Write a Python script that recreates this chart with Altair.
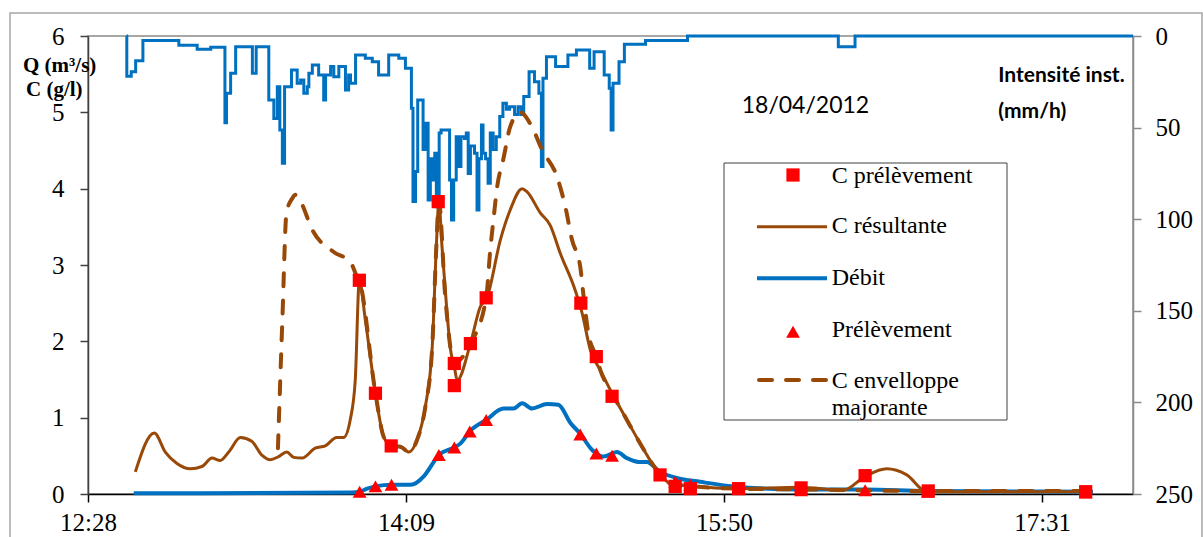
import altair as alt
import pandas as pd

# ---------------- data (times in minutes since midnight) ----------------
rain_t = [761.0, 761.1, 762.5, 763.9, 766.2, 777.6, 783.4, 787.7, 792.2, 792.7, 794.0, 795.6,
          800.9, 802.1, 806.1, 807.7, 808.8, 809.6, 810.4, 811.1, 813.3, 815.1, 816.2, 817.2,
          818.3, 818.8, 819.9, 821.9, 823.5, 824.1, 825.7, 826.7, 828.3, 830.4, 831.4, 832.0,
          833.6, 836.7, 838.9, 840.9, 844.1, 847.3, 849.4, 851.3, 851.8, 852.6, 853.3, 855.0,
          855.7, 856.6, 857.3, 858.2, 858.7, 859.2, 860.1, 860.7, 863.4, 864.0, 864.7, 865.5,
          866.3, 867.0, 868.1, 868.7, 869.3, 870.0, 871.3, 872.1, 872.7, 873.5, 874.0, 874.8,
          875.6, 876.3, 877.2, 878.2, 879.3, 880.3, 881.4, 882.4, 884.0, 885.1, 886.1, 886.9,
          888.6, 890.3, 891.7, 892.5, 893.0, 894.1, 897.0, 900.9, 903.6, 907.8, 909.2, 912.4,
          914.0, 914.6, 915.2, 917.1, 918.8, 925.5, 938.8, 986.6, 991.9, 1080.0]
rain_i = [0, 22, 19.5, 13.5, 2.5, 5, 7.3, 6.2, 47.3, 31.3, 20.4, 5.8,
          20.4, 5.8, 35, 45, 27.7, 51.3, 69.5, 27.7, 18.6, 25.8, 24, 31.3,
          27.7, 20.4, 15.8, 21.3, 35, 21.3, 16.7, 22.2, 16.7, 29.5, 21.3, 25.8,
          10.4, 12.2, 14, 21.3, 10.4, 12.2, 17.6, 39.5, 90.4, 74, 35, 62,
          47.6, 89.5, 67, 78.6, 64, 93.2, 53, 51.3, 78.6, 100.4, 78.6, 55,
          71.3, 55, 56, 53, 75, 60, 64, 95, 67, 48.6, 64, 67,
          80.4, 53, 62, 55, 44, 36.7, 40, 38.6, 42.8, 38.6, 42.8, 33,
          19.5, 25, 31.3, 71.3, 23, 11.3, 16.7, 10.4, 7.6, 17.6, 8.6, 21.3,
          28.5, 51.3, 25.8, 14, 4.5, 2.5, 0, 5.8, 0, 0]

debit_t = [763.3, 784.5, 832.3, 834.9, 837.3, 839.9, 845.0, 851.0, 855.2, 858.4, 860.0, 864.9,
           866.8, 869.8, 875.0, 880.5, 883.7, 886.4, 889.5, 894.3, 897.9, 901.7, 904.8, 908.5,
           912.2, 916.4, 919.6, 923.3, 925.9, 930.1, 935.4, 942.8, 953.4, 974.5, 995.1, 1014.3, 1067.3]
debit_q = [0.01, 0.01, 0.02, 0.03, 0.07, 0.10, 0.12, 0.12, 0.23, 0.42, 0.51, 0.61,
           0.66, 0.82, 0.97, 1.12, 1.12, 1.19, 1.12, 1.18, 1.17, 0.93, 0.79, 0.58,
           0.49, 0.55, 0.47, 0.42, 0.42, 0.29, 0.21, 0.16, 0.10, 0.06, 0.06, 0.04, 0.03]

cres_t = [763.8, 769.8, 773.3, 777.0, 781.2, 784.9, 788.1, 790.7, 793.4, 797.1, 800.7, 803.9,
          806.6, 809.2, 811.8, 814.0, 816.6, 820.8, 824.0, 827.6, 829.8, 831.9, 833.5, 834.8,
          836.7, 839.9, 842.5, 844.9, 847.8, 850.5, 853.1, 855.7, 857.9, 859.2, 860.0, 861.0,
          862.6, 863.7, 864.9, 865.8, 870.0, 873.1, 875.3, 879.5, 882.6, 886.4, 887.9, 892.2,
          895.3, 898.5, 903.2, 905.4, 908.0, 911.2, 914.9, 919.6, 924.4, 929.1, 933.3, 940.7,
          955.0, 974.5, 988.2, 995.1, 1001.9, 1008.3, 1014.6, 1065.3]
cres_c = [0.29, 0.80, 0.55, 0.40, 0.33, 0.36, 0.47, 0.44, 0.55, 0.74, 0.69, 0.51,
          0.45, 0.49, 0.55, 0.48, 0.47, 0.60, 0.63, 0.74, 0.74, 0.97, 1.49, 2.80,
          2.28, 1.32, 0.75, 0.63, 0.62, 0.55, 0.71, 1.14, 1.93, 3.24, 3.83, 3.24,
          2.37, 1.89, 1.67, 1.49, 1.97, 2.45, 2.58, 3.33, 3.72, 4.00, 3.96, 3.68,
          3.52, 3.15, 2.67, 2.37, 1.89, 1.62, 1.32, 0.97, 0.62, 0.31, 0.14, 0.10,
          0.07, 0.09, 0.05, 0.23, 0.33, 0.25, 0.03, 0.03]

cenv_t = [809.0, 810.4, 811.7, 813.5, 814.6, 816.2, 819.9, 826.7, 832.0, 833.8, 834.8,
          839.9, 842.5, 844.9, 847.8, 850.5, 853.1, 855.7, 857.9, 859.2, 860.0, 862.0, 864.9,
          870.0, 875.0, 876.3, 877.4, 878.4, 880.5, 882.6, 885.8, 889.5, 892.7, 897.4, 900.1,
          902.2, 904.8, 905.9, 907.4, 909.9, 911.2, 914.9, 919.6, 924.4, 929.1, 933.3, 940.7,
          955.0, 975.0, 1015.0, 1065.3]
cenv_c = [0.60, 2.28, 3.68, 3.87, 3.92, 3.83, 3.46, 3.17, 3.04, 2.87, 2.80,
          1.32, 0.75, 0.63, 0.62, 0.55, 0.71, 1.14, 1.93, 3.24, 3.83, 2.60, 1.72,
          1.97, 2.57, 3.20, 3.63, 4.00, 4.40, 4.81, 5.00, 4.81, 4.51, 4.16, 3.76,
          3.33, 2.98, 2.58, 2.10, 1.80, 1.62, 1.32, 0.97, 0.62, 0.31, 0.14, 0.10,
          0.07, 0.06, 0.04, 0.04]

cpre_t = [834.8, 839.9, 844.9, 859.8, 864.9, 864.9, 870.0, 875.0, 905.0, 909.9, 914.9,
          930.1, 934.9, 939.7, 955.0, 974.8, 995.1, 1015.1, 1065.0]
cpre_c = [2.80, 1.32, 0.63, 3.83, 1.71, 1.42, 1.97, 2.57, 2.50, 1.80, 1.28,
          0.25, 0.10, 0.07, 0.07, 0.08, 0.24, 0.04, 0.03]

pre_t = [834.9, 839.9, 845.0, 860.0, 864.9, 869.8, 875.0, 904.8, 909.9, 914.9,
         934.9, 939.7, 955.0, 974.8, 995.1, 1015.0, 1065.0]
pre_q = [0.03, 0.10, 0.12, 0.51, 0.61, 0.82, 0.97, 0.78, 0.53, 0.50,
         0.16, 0.12, 0.07, 0.05, 0.05, 0.03, 0.02]

x_domain = [748.8, 1080.0]
x_ticks = [748.8, 849.6, 950.4, 1051.2]
left_ticks = [0, 1, 2, 3, 4, 5, 6]
right_ticks = [0, 50, 100, 150, 200, 250]

legend_labels = ["C prélèvement", "C résultante", "Débit", "Prélèvement"]
legend_multi = ["C envelloppe", "majorante"]

# ---------------- styling ----------------
BLUE = "#0070C0"
BROWN = "#984807"
RED = "#FF0000"
W, H = 1045, 458
SERIF = "'Liberation Serif', 'Times New Roman', Times, 'DejaVu Serif', serif"

def df(t, v):
    return pd.DataFrame({"t": t, "v": v})

label_expr = ("floor(datum.value/60) + ':' + (floor(datum.value%60) < 10 ? '0' : '') "
              "+ floor(datum.value%60)")

xenc = alt.X("t:Q", title=None,
             scale=alt.Scale(domain=x_domain, nice=False, zero=False),
             axis=alt.Axis(values=x_ticks, labelExpr=label_expr, grid=False,
                           domainColor="#000", domainWidth=1.5, tickColor="#000",
                           tickWidth=1.5, tickSize=8, labelFont=SERIF, labelFontSize=25,
                           labelColor="#000", labelPadding=8, labelFlush=False,
                           labelOverlap=False))

yleft = alt.Y("v:Q", title=None,
              scale=alt.Scale(domain=[0, 6], nice=False),
              axis=alt.Axis(orient="left", values=left_ticks, grid=False,
                            domainColor="#404040", domainWidth=1.5, tickColor="#404040",
                            tickWidth=1.5, tickSize=8, labelFont=SERIF, labelFontSize=25,
                            labelColor="#000", labelPadding=16))

yright = alt.Y("v:Q", title=None,
               scale=alt.Scale(domain=[0, 250], nice=False, reverse=True),
               axis=alt.Axis(orient="right", values=right_ticks, grid=False,
                             domainColor="#8a8a8a", domainWidth=1.5, tickColor="#8a8a8a",
                             tickWidth=1.5, tickSize=8, labelFont=SERIF, labelFontSize=25,
                             labelColor="#000", labelPadding=14))

one = pd.DataFrame({"a": [0]})

frame = alt.Chart(one).mark_rect(fillOpacity=0, stroke="#a6a6a6", strokeWidth=1.5).encode(
    x=alt.value(-78), x2=alt.value(1114), y=alt.value(-23), y2=alt.value(530))

rain_line = alt.Chart(df(rain_t, rain_i)).mark_line(
    interpolate="step-after", color=BLUE, strokeWidth=3).encode(x=xenc, y=yright)

debit_line = alt.Chart(df(debit_t, debit_q)).mark_line(
    interpolate="monotone", color=BLUE, strokeWidth=4).encode(x=xenc, y=yleft)
cres_line = alt.Chart(df(cres_t, cres_c)).mark_line(
    interpolate="monotone", color=BROWN, strokeWidth=3).encode(x=xenc, y=yleft)
cenv_line = alt.Chart(df(cenv_t, cenv_c)).mark_line(
    interpolate="monotone", color=BROWN, strokeWidth=4, strokeDash=[13, 14],
    strokeCap="round").encode(x=xenc, y=yleft)
tri_pts = alt.Chart(df(pre_t, pre_q)).mark_point(
    shape="triangle-up", filled=True, color=RED, size=190, opacity=1).encode(x=xenc, y=yleft)
sq_pts = alt.Chart(df(cpre_t, cpre_c)).mark_point(
    shape="square", filled=True, color=RED, size=175, opacity=1).encode(x=xenc, y=yleft)

left = alt.layer(debit_line, cres_line, cenv_line, tri_pts, sq_pts)

# legend (drawn by hand, as in the original boxed legend)
leg_box = alt.Chart(one).mark_rect(fill="white", stroke="#404040", strokeWidth=1).encode(
    x=alt.value(636), x2=alt.value(919), y=alt.value(127), y2=alt.value(384))
leg_sq = alt.Chart(one).mark_point(shape="square", filled=True, color=RED, size=175,
                                   opacity=1).encode(x=alt.value(705), y=alt.value(139))
leg_cres = alt.Chart(one).mark_rule(color=BROWN, strokeWidth=3).encode(
    x=alt.value(669), x2=alt.value(739), y=alt.value(190.7))
leg_deb = alt.Chart(one).mark_rule(color=BLUE, strokeWidth=4).encode(
    x=alt.value(669), x2=alt.value(739), y=alt.value(242.3))
leg_tri = alt.Chart(one).mark_point(shape="triangle-up", filled=True, color=RED, size=190,
                                    opacity=1).encode(x=alt.value(705), y=alt.value(295.7))
leg_env = alt.Chart(one).mark_rule(color=BROWN, strokeWidth=4, strokeDash=[13, 14],
                                   strokeCap="round").encode(
    x=alt.value(671), x2=alt.value(739), y=alt.value(344))

def txt(label, x, y, font=SERIF, size=24, weight="normal"):
    return alt.Chart(one).mark_text(align="left", baseline="alphabetic", font=font,
                                    fontSize=size, fontWeight=weight, color="#000").encode(
        x=alt.value(x), y=alt.value(y), text=alt.value(label))

leg_texts = [txt(legend_labels[0], 743.7, 147), txt(legend_labels[1], 743.7, 197),
             txt(legend_labels[2], 743.7, 249), txt(legend_labels[3], 743.7, 300.7),
             txt(legend_multi[0], 743.7, 352.3), txt(legend_multi[1], 743.7, 379)]

annots = [txt("18/04/2012", 653.7, 77, font="Lato", size=23),
          txt("Intensité inst.", 910.3, 45.7, font="Lato", size=21, weight="bold"),
          txt("(mm/h)", 910.3, 82.3, font="Lato", size=21, weight="bold"),
          txt("Q (m³/s)", -65, 35.5, size=21, weight="bold"),
          txt("C (g/l)", -62, 59.5, size=21, weight="bold")]

chart = alt.layer(
    frame, rain_line, left, leg_box, leg_sq, leg_cres, leg_deb, leg_tri, leg_env,
    *leg_texts, *annots
).resolve_scale(y="independent").properties(
    width=W, height=H,
    autosize=alt.AutoSizeParams(type="none"),
    padding={"left": 88, "top": 36, "right": 70, "bottom": 43},
).configure_view(stroke="#8a8a8a", strokeWidth=1.5)

chart.save("out.html", embed_options={"renderer": "svg", "actions": False})
